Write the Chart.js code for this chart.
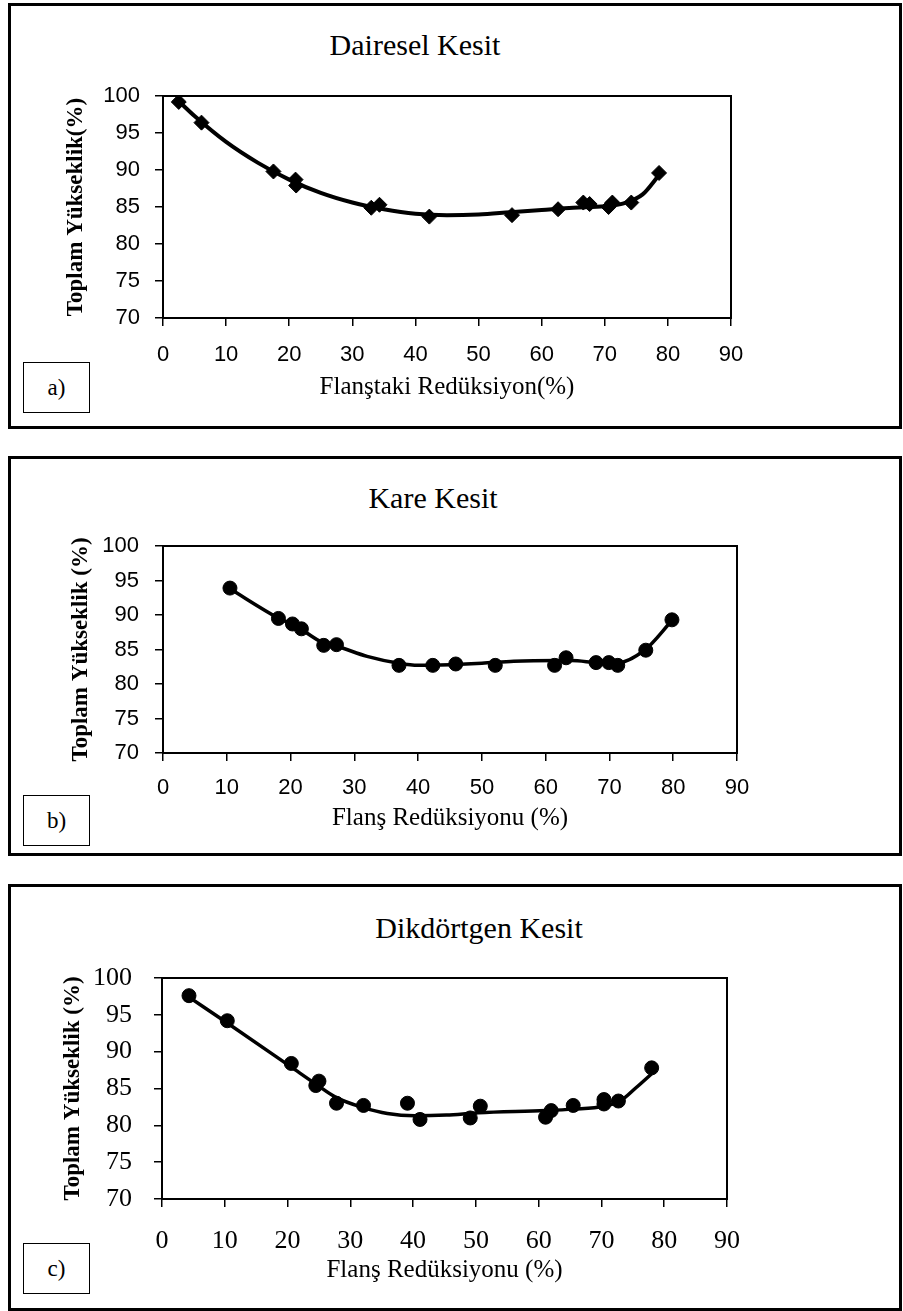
<!DOCTYPE html>
<html>
<head>
<meta charset="utf-8">
<script src="https://cdn.jsdelivr.net/npm/chart.js@4.4.1/dist/chart.umd.min.js"></script>
<style>
  html, body { margin: 0; padding: 0; background: #fff; }
  body { width: 903px; height: 1311px; position: relative; overflow: hidden; }
  .frame { position: absolute; left: 8px; width: 894px; border: 3px solid #000; box-sizing: border-box; }
  .tag {
    position: absolute; left: 23px; width: 67px; height: 51px;
    border: 1.5px solid #000; box-sizing: border-box;
    font: 23px 'Liberation Serif', serif;
    display: flex; align-items: center; justify-content: center;
  }
  .title { position: absolute; font: 30px/36px 'Liberation Serif', serif; white-space: nowrap; transform: translateX(-50%); }
  canvas { position: absolute; left: 0; }
</style>
</head>
<body>
<div class="frame" style="top:3px;height:426px"></div>
<div class="frame" style="top:456px;height:400px"></div>
<div class="frame" style="top:884px;height:427px"></div>

<div class="title" style="left:415px;top:27px">Dairesel Kesit</div>
<div class="title" style="left:433px;top:480px">Kare Kesit</div>
<div class="title" style="left:479px;top:910px">Dikdörtgen Kesit</div>

<div class="tag" style="top:362px">a)</div>
<div class="tag" style="top:795px">b)</div>
<div class="tag" style="top:1243px">c)</div>

<canvas id="chartA" width="903" height="430" style="top:0px"></canvas>
<canvas id="chartB" width="903" height="400" style="top:456px"></canvas>
<canvas id="chartC" width="903" height="427" style="top:884px"></canvas>

<script>
// a) Dairesel Kesit - measured points
const daireselX = [2.5, 6.1, 17.5, 21.0, 21.1, 33.0, 34.3, 42.2, 55.3, 62.6, 66.6, 67.6, 70.6, 71.2, 74.2, 78.6];
const daireselY = [99.2, 96.4, 89.8, 88.7, 87.9, 84.9, 85.3, 83.7, 83.9, 84.7, 85.6, 85.4, 85.0, 85.6, 85.6, 89.6];
// a) trend curve
const daireselCurveX = [2.5, 5, 10, 15, 20, 25, 30, 35, 40, 45, 50, 55, 60, 65, 70, 73, 76, 78.5];
const daireselCurveY = [99.3, 97.3, 93.8, 91.0, 88.7, 86.9, 85.6, 84.7, 84.1, 83.9, 84.0, 84.3, 84.6, 84.9, 85.1, 85.5, 86.7, 89.2];

// b) Kare Kesit
const kareX = [10.5, 18.1, 20.3, 21.7, 25.2, 27.2, 37.0, 42.3, 45.9, 52.1, 61.4, 63.2, 67.9, 69.9, 71.3, 75.7, 79.8];
const kareY = [93.9, 89.5, 88.7, 88.0, 85.6, 85.7, 82.7, 82.7, 82.9, 82.7, 82.7, 83.8, 83.1, 83.1, 82.7, 84.9, 89.3];
const kareCurveX = [10.5, 18, 21, 25, 27.5, 32, 37, 40, 45, 50, 55, 62, 64, 68, 71, 75.5, 79.8];
const kareCurveY = [93.8, 89.6, 88.3, 86.0, 85.4, 84.0, 83.0, 82.7, 82.8, 83.0, 83.3, 83.4, 83.4, 83.1, 83.0, 84.9, 89.2];

// c) Dikdörtgen Kesit
const dikX = [4.3, 10.4, 20.6, 24.5, 25.0, 27.8, 32.1, 39.1, 41.1, 49.1, 50.7, 61.1, 62.0, 65.5, 70.4, 70.4, 72.7, 78.0];
const dikY = [97.6, 94.2, 88.4, 85.4, 86.0, 83.0, 82.7, 83.0, 80.8, 81.0, 82.6, 81.1, 82.0, 82.7, 82.9, 83.5, 83.3, 87.8];
const dikCurveX = [4.3, 10.4, 20.6, 24.5, 27.7, 32.1, 35.9, 40.3, 45.3, 50.4, 61.1, 65.5, 70.4, 73.0, 75.5, 78.0];
const dikCurveY = [97.4, 93.9, 87.9, 85.6, 83.8, 82.4, 81.6, 81.3, 81.4, 81.7, 82.0, 82.2, 82.6, 83.3, 85.1, 87.0];

const xTicks = [0, 10, 20, 30, 40, 50, 60, 70, 80, 90];
const yTicks = [70, 75, 80, 85, 90, 95, 100];

const toPoints = (xs, ys) => xs.map((x, i) => ({ x, y: ys[i] }));

// outline of the plot area (top and right sides)
const plotBox = {
  id: 'plotBox',
  beforeDatasetsDraw(chart) {
    const { ctx, chartArea: { left, top, right, bottom } } = chart;
    ctx.save();
    ctx.strokeStyle = '#000';
    ctx.lineWidth = 2;
    ctx.strokeRect(left, top, right - left, bottom - top);
    ctx.restore();
  },
};

function makeChart(id, p) {
  const tickFont = { family: p.tickFamily, size: p.tickSize };
  new Chart(document.getElementById(id), {
    type: 'scatter',
    data: {
      datasets: [
        {
          data: toPoints(p.curveX, p.curveY),
          showLine: true,
          borderColor: '#000',
          borderWidth: p.lineWidth,
          pointRadius: 0,
          tension: 0.4,
          cubicInterpolationMode: 'monotone',
        },
        {
          data: toPoints(p.xs, p.ys),
          showLine: false,
          pointStyle: p.marker,
          pointRadius: p.radius,
          backgroundColor: '#000',
          borderColor: '#000',
          borderWidth: 1,
        },
      ],
    },
    options: {
      responsive: false,
      animation: false,
      events: [],
      layout: {
        padding: { left: p.padLeft, right: 903 - p.right, top: p.top, bottom: p.padBottom },
      },
      plugins: {
        legend: { display: false },
        tooltip: { enabled: false },
      },
      scales: {
        x: {
          type: 'linear',
          min: 0,
          max: 90,
          afterBuildTicks: s => { s.ticks = xTicks.map(v => ({ value: v })); },
          afterFit: s => { s.height = p.xHeight; },
          grid: { drawOnChartArea: false, drawTicks: true, tickLength: 8, color: '#000', lineWidth: 1.5 },
          border: { color: '#000', width: 2 },
          ticks: { color: '#000', font: tickFont, padding: p.xTickPad, maxRotation: 0 },
          title: {
            display: true,
            text: p.xTitle,
            color: '#000',
            padding: 0,
            font: { family: 'Liberation Serif', size: 25 },
          },
        },
        y: {
          type: 'linear',
          min: 70,
          max: 100,
          afterBuildTicks: s => { s.ticks = yTicks.map(v => ({ value: v })); },
          afterFit: s => { s.width = p.yWidth; },
          grid: { drawOnChartArea: false, drawTicks: true, tickLength: 8, color: '#000', lineWidth: 1.5 },
          border: { color: '#000', width: 2 },
          ticks: { color: '#000', font: tickFont, padding: p.yTickPad },
          title: {
            display: true,
            text: p.yTitle,
            color: '#000',
            padding: 0,
            font: { family: 'Liberation Serif', size: 23, weight: 'bold' },
          },
        },
      },
    },
    plugins: [plotBox],
  });
}

makeChart('chartA', {
  xs: daireselX, ys: daireselY, curveX: daireselCurveX, curveY: daireselCurveY,
  marker: 'rectRot', radius: 7.5, lineWidth: 4,
  padLeft: 62, right: 731, top: 96, padBottom: 28, xHeight: 84, yWidth: 101,
  tickFamily: 'Liberation Sans', tickSize: 22, xTickPad: 16, yTickPad: 15,
  xTitle: 'Flanştaki Redüksiyon(%)', yTitle: 'Toplam Yükseklik(%)',
});

makeChart('chartB', {
  xs: kareX, ys: kareY, curveX: kareCurveX, curveY: kareCurveY,
  marker: 'circle', radius: 7, lineWidth: 3.5,
  padLeft: 67, right: 737, top: 90, padBottom: 23, xHeight: 80, yWidth: 96,
  tickFamily: 'Liberation Sans', tickSize: 22, xTickPad: 14, yTickPad: 16,
  xTitle: 'Flanş Redüksiyonu (%)', yTitle: 'Toplam Yükseklik (%)',
});

makeChart('chartC', {
  xs: dikX, ys: dikY, curveX: dikCurveX, curveY: dikCurveY,
  marker: 'circle', radius: 7, lineWidth: 3.5,
  padLeft: 59, right: 727, top: 94, padBottom: 26, xHeight: 86, yWidth: 103,
  tickFamily: 'Liberation Serif', tickSize: 26, xTickPad: 19, yTickPad: 22,
  xTitle: 'Flanş Redüksiyonu (%)', yTitle: 'Toplam Yükseklik (%)',
});
</script>
</body>
</html>
